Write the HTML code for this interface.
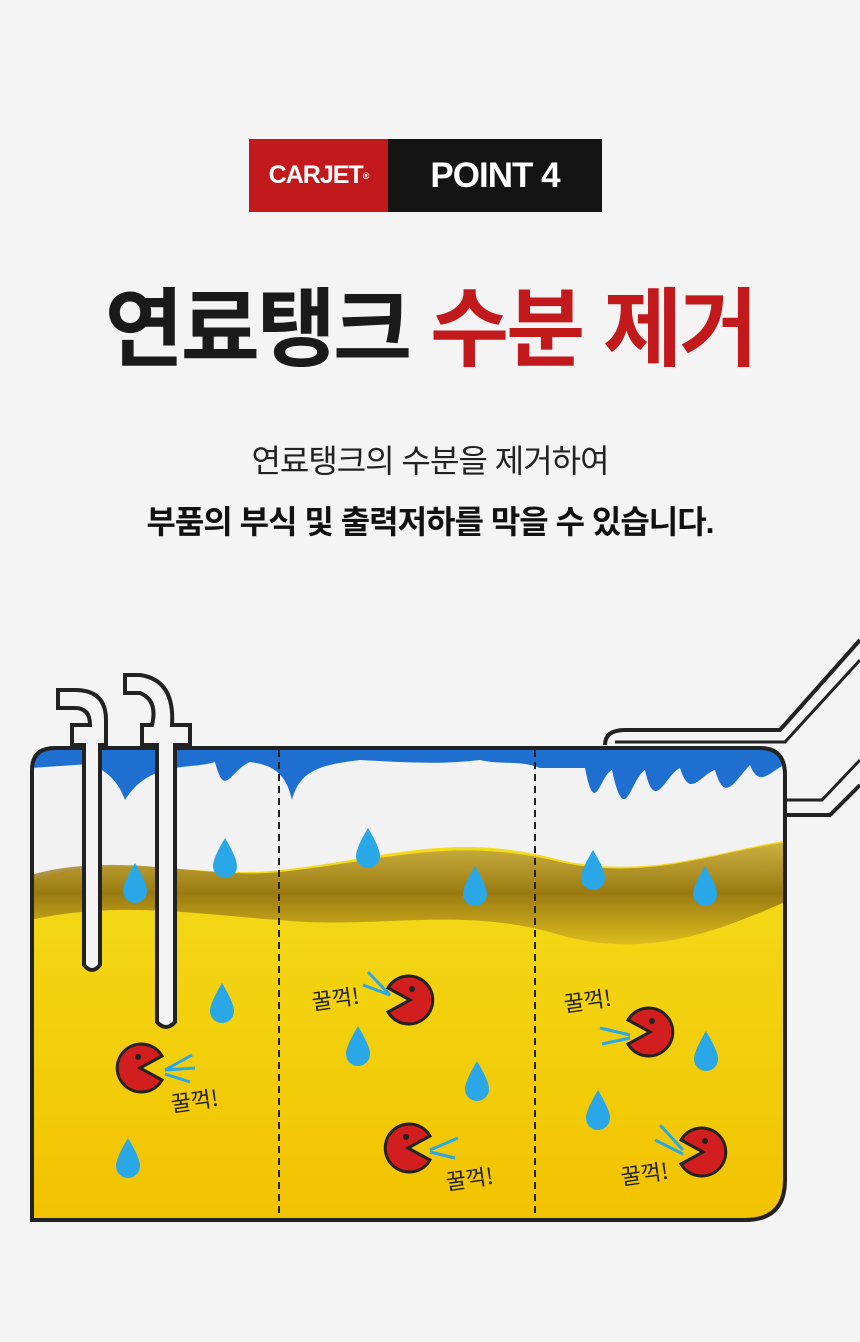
<!DOCTYPE html>
<html><head><meta charset="utf-8"><style>
body{margin:0;width:860px;height:1342px;background:#f4f4f4;overflow:hidden;position:relative;font-family:"Liberation Sans","Noto Sans CJK KR",sans-serif}
.badge{position:absolute;top:139px;left:249px;height:73px;display:flex}
.b1{width:139px;background:#c2191d;color:#fff;font-weight:bold;font-size:25px;display:flex;align-items:center;justify-content:center;letter-spacing:-1px}
.b2{width:214px;background:#141414;color:#fff;font-weight:bold;font-size:35px;display:flex;align-items:center;justify-content:center;letter-spacing:-1px}
h1{position:absolute;top:280px;left:0;width:860px;text-align:center;margin:0;font-size:86px;font-weight:bold;letter-spacing:-3px;color:#1a1a1a;line-height:100px}
h1 span{color:#c2191d}
.s1{position:absolute;top:436px;width:860px;text-align:center;font-size:32px;color:#222;letter-spacing:-1px}
.s2{position:absolute;top:497px;width:860px;text-align:center;font-size:32px;font-weight:bold;color:#111;letter-spacing:-1px}
svg{position:absolute;left:0;top:0}
</style></head><body>
<div class="badge"><div class="b1">CARJET<sup style="font-size:9px">®</sup></div><div class="b2">POINT 4</div></div>
<h1>연료탱크 <span>수분 제거</span></h1>
<div class="s1">연료탱크의 수분을 제거하여</div>
<div class="s2">부품의 부식 및 출력저하를 막을 수 있습니다.</div>
<svg width="860" height="1342" viewBox="0 0 860 1342">
<defs>
<linearGradient id="oil" x1="0" y1="0" x2="0" y2="1"><stop offset="0" stop-color="#f3dc1a"/><stop offset="1" stop-color="#f2c200"/></linearGradient>
<linearGradient id="band" x1="0" y1="0" x2="0" y2="1"><stop offset="0" stop-color="#c9a94a"/><stop offset="0.5" stop-color="#8a6a10"/><stop offset="1" stop-color="#d9b820"/></linearGradient>
<clipPath id="tank"><path d="M32 1220 L32 770 Q32 748 55 748 L760 748 Q785 748 785 775 L785 1180 Q785 1220 745 1220 Z"/></clipPath>
<g id="drop"><path d="M0 -22 Q12 -2 12 6 A12 12 0 0 1 -12 6 Q-12 -2 0 -22Z" fill="#2aa7e6"/></g>
<g id="pac"><path d="M0 0 L22 -12 A24 24 0 1 0 22 12 Z" fill="#d21e1e" stroke="#222" stroke-width="3"/><circle cx="-2" cy="-11" r="3" fill="#222"/></g>
</defs>
<g clip-path="url(#tank)">
<rect x="30" y="745" width="760" height="480" fill="#f2f2f2"/>
<path d="M30 880 C120 850 200 880 280 870 C380 860 450 830 560 860 C650 880 720 850 790 840 L790 1225 L30 1225Z" fill="url(#oil)"/>
<path d="M30 875 C120 850 200 880 280 872 C380 862 450 835 560 862 C650 882 720 850 790 842 L790 900 C720 930 650 960 560 935 C460 905 380 930 280 920 C200 915 120 900 30 920Z" fill="url(#band)" opacity="0.85"/>
<path d="M30 748 L790 748 L790 762 C770 770 760 790 750 765 C735 780 725 805 715 770 C700 775 690 800 680 768 C665 775 655 815 645 770 C630 780 625 830 612 770 C600 775 595 820 585 768 L540 768 C520 760 500 765 480 760 C440 765 400 762 360 760 C320 765 300 770 292 800 C285 770 270 765 250 762 C230 770 225 800 215 762 C190 770 150 760 125 800 C118 780 105 770 90 764 L30 768Z" fill="#1f6fd0"/>
</g>
<path d="M32 1220 L32 770 Q32 748 55 748 L760 748 Q785 748 785 775 L785 1180 Q785 1220 745 1220 Z" fill="none" stroke="#222" stroke-width="4"/>
<line x1="279" y1="750" x2="279" y2="1218" stroke="#222" stroke-width="2" stroke-dasharray="7,5"/>
<line x1="535" y1="750" x2="535" y2="1218" stroke="#222" stroke-width="2" stroke-dasharray="7,5"/>
<g fill="#f4f4f4" stroke="#222" stroke-width="4">
<path d="M84 745 L84 965 Q92 975 100 965 L100 745 L106 745 L106 720 Q106 690 75 690 L58 690 L58 708 L75 708 Q90 708 90 725 L72 725 L72 745 Z"/>
<path d="M157 745 L157 1022 Q166 1032 175 1022 L175 745 L190 745 L190 725 L172 725 Q175 680 140 675 L125 675 L125 693 L140 693 Q158 700 152 725 L142 725 L142 745 Z"/>
</g>
<path d="M605 745 Q605 730 625 730 L780 730 L860 640" fill="none" stroke="#222" stroke-width="4"/>
<path d="M615 742 L785 742 L860 660" fill="none" stroke="#222" stroke-width="3"/>
<path d="M785 815 L830 815 L860 785" fill="none" stroke="#222" stroke-width="4"/>
<path d="M785 800 L822 800 L860 760" fill="none" stroke="#222" stroke-width="3"/>
<g>
<use href="#drop" x="225" y="860"/><use href="#drop" x="368" y="850"/><use href="#drop" x="135" y="885"/><use href="#drop" x="475" y="888"/><use href="#drop" x="593" y="872"/><use href="#drop" x="705" y="888"/>
<use href="#drop" x="222" y="1005"/><use href="#drop" x="358" y="1048"/><use href="#drop" x="477" y="1083"/><use href="#drop" x="128" y="1160"/><use href="#drop" x="598" y="1112"/><use href="#drop" x="706" y="1053"/>
</g>
<use href="#pac" x="140" y="1068"/>
<use href="#pac" x="-410" y="1000" transform="scale(-1 1)"/>
<use href="#pac" x="-650" y="1032" transform="scale(-1 1)"/>
<use href="#pac" x="408" y="1148"/>
<use href="#pac" x="-703" y="1152" transform="scale(-1 1)"/>
<g stroke="#2aa7e6" stroke-width="3" fill="none">
<path d="M165 1070 L192 1055 M165 1070 L195 1068 M165 1074 L190 1082"/>
<path d="M390 995 L368 972 M390 995 L363 985"/>
<path d="M630 1035 L600 1028 M630 1038 L602 1044"/>
<path d="M430 1150 L458 1138 M430 1152 L455 1158"/>
<path d="M683 1150 L660 1125 M683 1154 L655 1140"/>
</g>
<g font-size="22" fill="#222" font-family="'Noto Sans CJK KR',sans-serif">
<text x="172" y="1112" transform="rotate(-8 172 1112)">꿀꺽!</text>
<text x="313" y="1010" transform="rotate(-8 313 1010)">꿀꺽!</text>
<text x="565" y="1012" transform="rotate(-8 565 1012)">꿀꺽!</text>
<text x="447" y="1190" transform="rotate(-8 447 1190)">꿀꺽!</text>
<text x="622" y="1185" transform="rotate(-8 622 1185)">꿀꺽!</text>
</g>
</svg>
</body></html>
